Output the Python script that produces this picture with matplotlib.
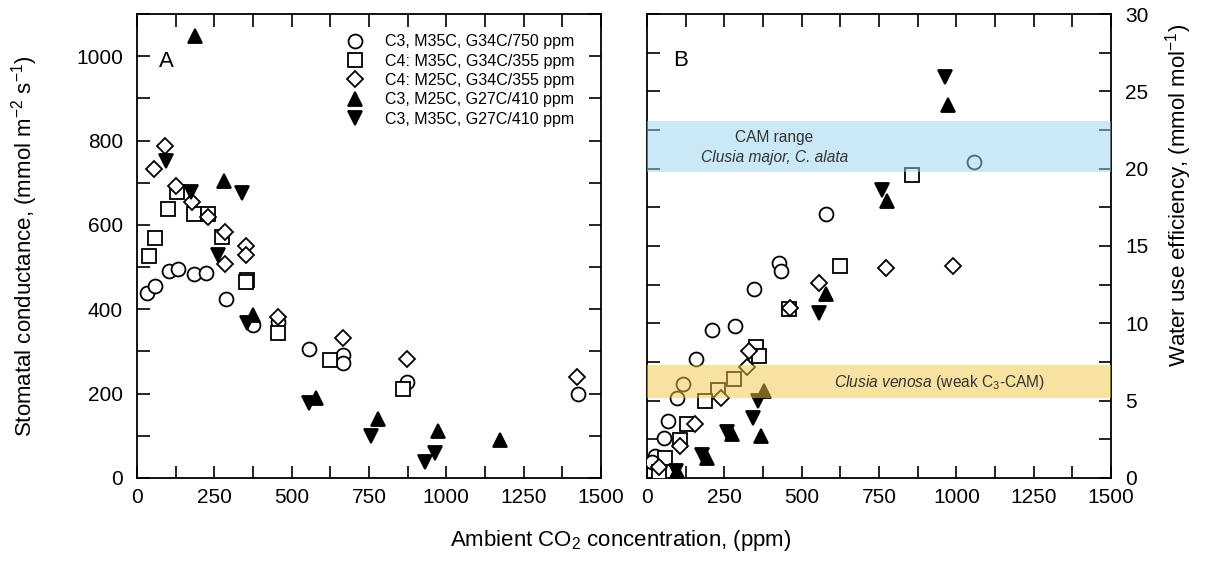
import numpy as np
import matplotlib
matplotlib.use('Agg')
import matplotlib.pyplot as plt
from matplotlib.ticker import MultipleLocator

plt.rcParams['font.family'] = ['Liberation Sans', 'DejaVu Sans']
plt.rcParams['mathtext.fontset'] = 'custom'
plt.rcParams['mathtext.rm'] = 'Liberation Sans'
plt.rcParams['mathtext.it'] = 'Liberation Sans:italic'

labels = ['C3, M35C, G34C/750 ppm', 'C4: M35C, G34C/355 ppm', 'C4: M25C, G34C/355 ppm',
          'C3, M25C, G27C/410 ppm', 'C3, M35C, G27C/410 ppm']
markers = ['o', 's', 'D', '^', 'v']
filled = [False, False, False, True, True]

# panel A: stomatal conductance
a_x = [
    [32, 57, 104, 134, 185, 223, 289, 376, 457, 557, 665, 667, 874, 1425],
    [38, 59, 101, 129, 185, 228, 276, 357, 352, 457, 625, 860],
    [90, 55, 125, 179, 228, 284, 284, 352, 352, 457, 667, 874, 1421],
    [187, 282, 376, 579, 779, 973, 1173],
    [93, 176, 341, 262, 357, 557, 757, 962, 932],
]
a_y = [
    [438, 456, 491, 496, 483, 487, 425, 362, 370, 305, 292, 273, 228, 198],
    [526, 570, 638, 677, 626, 626, 572, 469, 464, 343, 280, 210],
    [786, 733, 693, 654, 618, 583, 507, 551, 529, 382, 333, 282, 239],
    [1049, 703, 386, 190, 139, 111, 90],
    [752, 679, 675, 529, 367, 177, 100, 60, 37],
]

# panel B: water use efficiency
b_x = [
    [1057, 577, 425, 433, 347, 210, 285, 159, 116, 96, 69, 55, 26, 15],
    [858, 625, 460, 352, 363, 280, 228, 186, 129, 105, 58, 37],
    [990, 771, 555, 463, 328, 323, 240, 156, 105, 40],
    [974, 777, 577, 379, 368, 275, 195, 96],
    [963, 759, 557, 359, 342, 258, 177, 93],
]
b_y = [
    [20.4, 17.1, 13.9, 13.4, 12.2, 9.6, 9.8, 7.7, 6.1, 5.2, 3.7, 2.6, 1.4, 1.05],
    [19.6, 13.7, 10.9, 8.5, 7.9, 6.4, 5.7, 5.0, 3.5, 2.45, 1.3, 0.4],
    [13.7, 13.6, 12.6, 11.0, 8.2, 7.2, 5.15, 3.5, 2.1, 0.7],
    [24.1, 17.9, 11.9, 5.6, 2.7, 2.85, 1.3, 0.45],
    [25.9, 18.6, 10.7, 5.0, 3.9, 3.0, 1.5, 0.45],
]

cam_band = (19.8, 23.1)
venosa_band = (5.2, 7.3)

fig = plt.figure(figsize=(12.05, 5.81), dpi=100)
axA = fig.add_axes([0.1137, 0.1773, 0.385, 0.7986])
axB = fig.add_axes([0.537, 0.1773, 0.385, 0.7986])


def draw(ax, xs, ys):
    for i in range(5):
        fc = 'black' if filled[i] else 'white'
        ms = 8 if markers[i] == 'D' else 10
        ax.plot(xs[i], ys[i], linestyle='none', marker=markers[i], ms=ms,
                mfc=fc, mec='black', mew=1.3, label=labels[i], zorder=3)


def style(ax):
    ax.set_xlim(0, 1500)
    ax.xaxis.set_major_locator(MultipleLocator(250))
    ax.xaxis.set_minor_locator(MultipleLocator(125))
    ax.tick_params(which='both', direction='in', length=9, width=1.2,
                   top=True, right=True, left=True, bottom=True, labelsize=15)
    ax.tick_params(axis='x', pad=7)
    ax.tick_params(axis='y', pad=10)
    for s in ax.spines.values():
        s.set_linewidth(1.3)


draw(axA, a_x, a_y)
style(axA)
axA.set_ylim(0, 1100)
axA.yaxis.set_major_locator(MultipleLocator(200))
axA.yaxis.set_minor_locator(MultipleLocator(100))
axA.set_ylabel('Stomatal conductance, (mmol m$^{-2}$ s$^{-1}$)', fontsize=16, labelpad=26)
axA.text(0.047, 0.897, 'A', transform=axA.transAxes, fontsize=16, va='center', ha='left')
leg = axA.legend(loc='upper left', bbox_to_anchor=(0.4526, 0.956), frameon=False,
                 fontsize=11.5, handlelength=1.0, handletextpad=1.4, labelspacing=0.27,
                 borderpad=0, borderaxespad=0)

draw(axB, b_x, b_y)
style(axB)
axB.set_ylim(0, 30)
axB.yaxis.set_major_locator(MultipleLocator(5))
axB.yaxis.set_minor_locator(MultipleLocator(2.5))
axB.tick_params(axis='y', which='both', labelleft=False, labelright=True)
axB.yaxis.set_label_position('right')
axB.set_ylabel('Water use efficiency, (mmol mol$^{-1}$)', fontsize=16)
axB.yaxis.set_label_coords(1.113, 0.608)
axB.text(0.056, 0.9, 'B', transform=axB.transAxes, fontsize=16, va='center', ha='left')

axB.axhspan(*cam_band, color='#99d3ef', alpha=0.5, lw=0, zorder=4)
axB.axhspan(*venosa_band, color='#f3c747', alpha=0.5, lw=0, zorder=4)
axB.text(411, 22.0, 'CAM range', fontsize=11.2, color='#333333', ha='center', va='center', zorder=5)
axB.text(411, 20.75, 'Clusia major, C. alata', fontsize=11.2, style='italic', color='#333333',
         ha='center', va='center', zorder=5)
axB.text(946, 6.2, r'$\mathit{Clusia\ venosa}$ (weak C$_3$-CAM)', fontsize=11.2,
         color='#333333', ha='center', va='center', zorder=5)

fig.text(0.515, 0.07, 'Ambient CO$_2$ concentration, (ppm)', fontsize=16, ha='center', va='center')

fig.savefig('out.png', dpi=100)
